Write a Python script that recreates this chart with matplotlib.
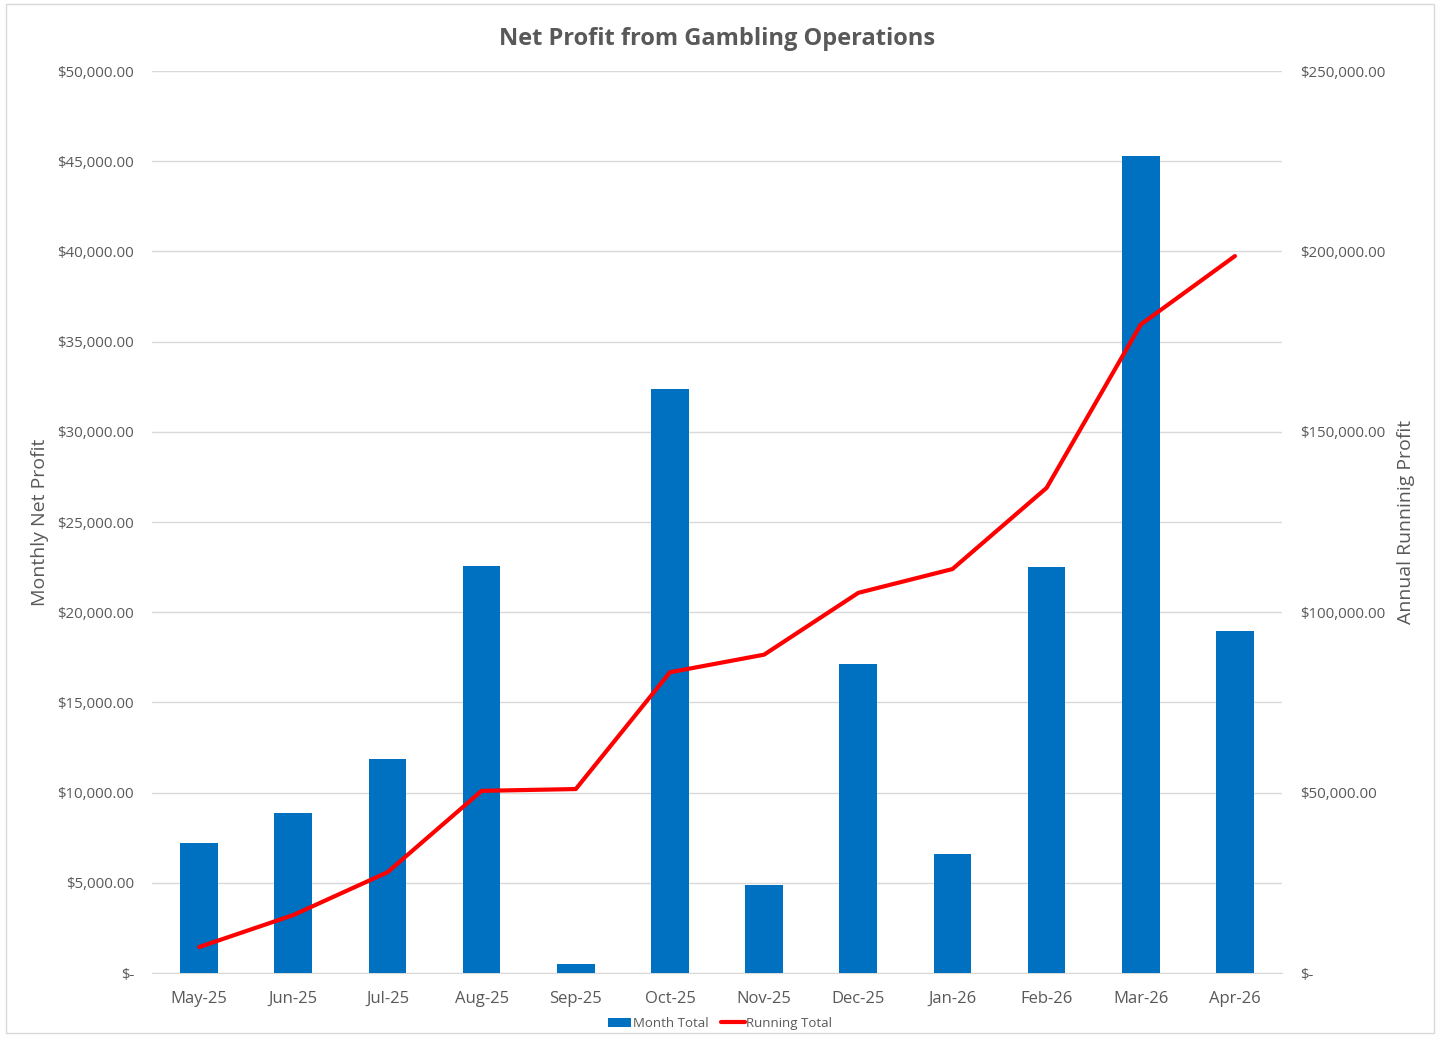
import numpy as np
import matplotlib.pyplot as plt
from matplotlib.ticker import FuncFormatter

months = ["May-25", "Jun-25", "Jul-25", "Aug-25", "Sep-25", "Oct-25",
          "Nov-25", "Dec-25", "Jan-26", "Feb-26", "Mar-26", "Apr-26"]
month_total = [7200, 8870, 11860, 22560, 500, 32370,
               4880, 17130, 6600, 22500, 45290, 18960]
running_total = [7200, 16070, 27930, 50490, 50990, 83360,
                 88240, 105370, 111970, 134470, 179760, 198720]

plt.rcParams['font.family'] = ['Open Sans', 'DejaVu Sans']
grey = '#595959'


def money(v, pos):
    if v == 0:
        return '$-'
    return '${:,.2f}'.format(v)


fig = plt.figure(figsize=(14.4, 10.37), dpi=100)
ax = fig.add_axes([0.1056, 0.0617, 0.7847, 0.8698])
ax2 = ax.twinx()

x = np.arange(len(months))
bars = ax.bar(x, month_total, width=0.4, color='#0070C0', label='Month Total', zorder=3)
line, = ax2.plot(x, running_total, color='#FF0000', lw=3, label='Running Total',
                 solid_joinstyle='round', solid_capstyle='round')

ax.set_xlim(-0.5, len(months) - 0.5)
ax.set_ylim(0, 50000)
ax2.set_ylim(0, 250000)
ax.set_yticks(np.arange(0, 50001, 5000))
ax2.set_yticks(np.arange(0, 250001, 50000))
ax.yaxis.set_major_formatter(FuncFormatter(money))
ax2.yaxis.set_major_formatter(FuncFormatter(money))

ax.set_xticks(x)
ax.set_xticklabels(months, fontsize=12, color=grey)
ax.tick_params(axis='x', length=0, pad=13)
ax.tick_params(axis='y', length=0, labelsize=10.8, colors=grey, pad=13)
ax2.tick_params(axis='y', length=0, labelsize=10.8, colors=grey, pad=13)

ax.grid(axis='y', color='#D9D9D9', lw=1, zorder=0)
for a in (ax, ax2):
    for s in a.spines.values():
        s.set_visible(False)
ax.spines['bottom'].set_visible(True)
ax.spines['bottom'].set_color('#D9D9D9')

ax.set_ylabel('Monthly Net Profit', fontsize=14, color=grey, labelpad=6)
ax2.set_ylabel('Annual Runninig Profit', fontsize=14, color=grey, labelpad=8)
ax.set_title('Net Profit from Gambling Operations', fontsize=17, fontweight='bold',
             color=grey, pad=19)

fig.legend([bars, line], ['Month Total', 'Running Total'], loc='center',
           bbox_to_anchor=(0.5, 0.013), ncol=2, frameon=False, fontsize=9.5,
           labelcolor=grey, handlelength=1.8, handletextpad=0.1, columnspacing=1.0)

fig.patches.append(plt.Rectangle((0.004, 0.004), 0.992, 0.992, transform=fig.transFigure,
                                 fill=False, edgecolor='#D9D9D9', lw=1))

fig.savefig('out.png', dpi=100)
